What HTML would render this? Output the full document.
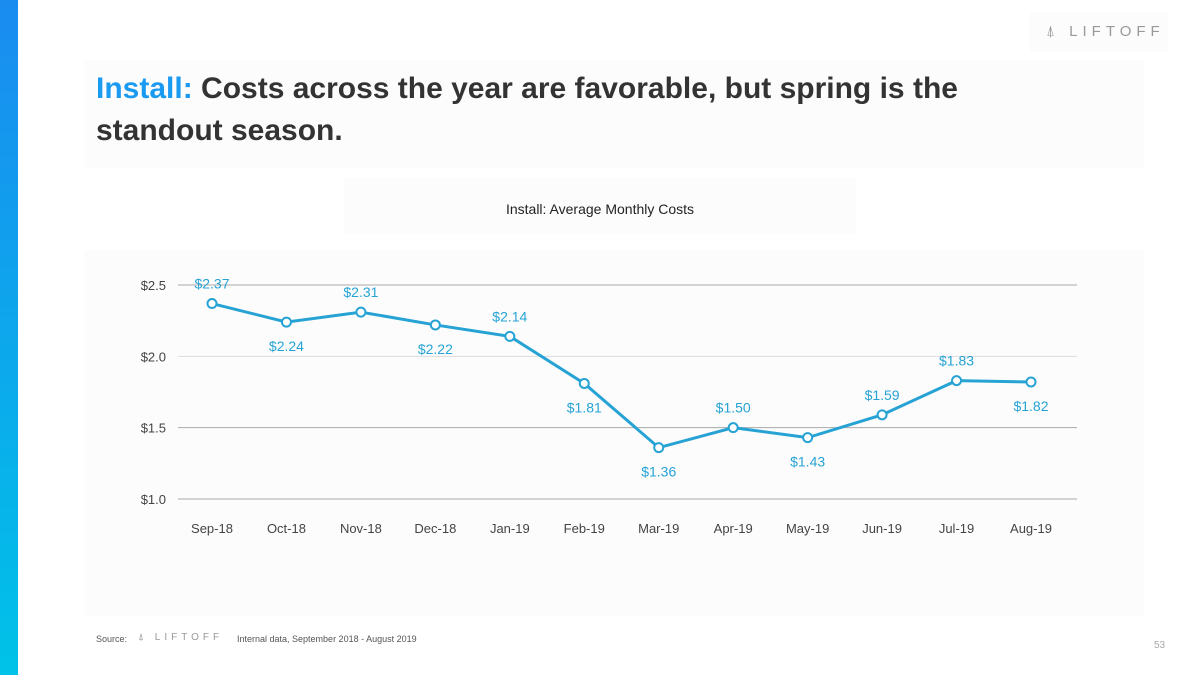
<!DOCTYPE html>
<html><head><meta charset="utf-8"><style>
body{margin:0;width:1200px;height:675px;background:#fff;position:relative;overflow:hidden;font-family:"Liberation Sans",sans-serif}
.bar{position:absolute;left:0;top:0;width:18px;height:675px;background:linear-gradient(#1a8cf0,#00c2e8)}
.title{position:absolute;left:96px;top:68px;font-size:30px;font-weight:bold;color:#333;line-height:42px;width:940px}
.title span{color:#1a9af0}
.panel{position:absolute;background:#fcfcfc}
.logo{position:absolute;color:#999;letter-spacing:5px;font-size:15px}
</style></head><body>
<div class="bar"></div>
<div class="panel" style="left:1030px;top:12px;width:138px;height:40px"></div>
<div class="logo" style="left:1046px;top:23px">⍋ LIFTOFF</div>
<div class="panel" style="left:84px;top:60px;width:1060px;height:108px"></div>
<div class="title"><span>Install:</span> Costs across the year are favorable, but spring is the standout season.</div>
<div class="panel" style="left:344px;top:178px;width:512px;height:56px"></div>
<div class="panel" style="left:84px;top:250px;width:1060px;height:366px"></div>
<div style="position:absolute;left:0;top:201px;width:1200px;text-align:center;font-size:14px;color:#222">Install: Average Monthly Costs</div>
<svg style="position:absolute;left:0;top:0" width="1200" height="675" id="chart"></svg>
<div style="position:absolute;left:96px;top:634px;font-size:9px;color:#555">Source:</div>
<div class="logo" style="left:138px;top:632px;font-size:10px;letter-spacing:4px">⍋ LIFTOFF</div>
<div style="position:absolute;left:237px;top:634px;font-size:9px;color:#555">Internal data, September 2018 - August 2019</div>
<div style="position:absolute;left:1154px;top:640px;font-size:10px;color:#aaa">53</div>
<script>
const categories=["Sep-18","Oct-18","Nov-18","Dec-18","Jan-19","Feb-19","Mar-19","Apr-19","May-19","Jun-19","Jul-19","Aug-19"];
const values=[2.37,2.24,2.31,2.22,2.14,1.81,1.36,1.50,1.43,1.59,1.83,1.82];
const labelAbove=[1,0,1,0,1,0,0,1,0,1,1,0];
const yTicks=[1.0,1.5,2.0,2.5];
const yTickLabels=["$1.0","$1.5","$2.0","$2.5"];
const svg=document.getElementById('chart');const NS='http://www.w3.org/2000/svg';
const x=i=>212+i*(1031-212)/(categories.length-1);
const y=v=>499-(v-1.0)*(499-285)/1.5;
function mk(t,a,txt){const e=document.createElementNS(NS,t);for(const k in a)e.setAttribute(k,a[k]);if(txt!=null)e.textContent=txt;svg.appendChild(e);return e;}
yTicks.forEach((t,i)=>{
 const l=mk('line',{x1:178,x2:1077,y1:y(t),y2:y(t),stroke:t===2.0?'#ddd':'#aaa','stroke-width':1});
 
 
 const tx=mk('text',{x:166,y:y(t)+5,'text-anchor':'end','font-size':13,fill:'#444'},yTickLabels[i]);
 
 
});
categories.forEach((c,i)=>{
 const tx=mk('text',{x:x(i),y:533,'text-anchor':'middle','font-size':13,fill:'#444'},c);
 
 
});
const p=mk('polyline',{points:values.map((v,i)=>x(i)+','+y(v)).join(' '),fill:'none',stroke:'#26a3d4','stroke-width':3});


values.forEach((v,i)=>{
 const c=mk('circle',{cx:x(i),cy:y(v),r:4.5,fill:'#fff',stroke:'#26a3d4','stroke-width':2});
 
 
 const ly=labelAbove[i]?y(v)-15:y(v)+29;
 const t=mk('text',{x:x(i),y:ly,'text-anchor':'middle','font-size':14,fill:'#26a3d4'},'$'+v.toFixed(2));
 
 
});
</script>
</body></html>
